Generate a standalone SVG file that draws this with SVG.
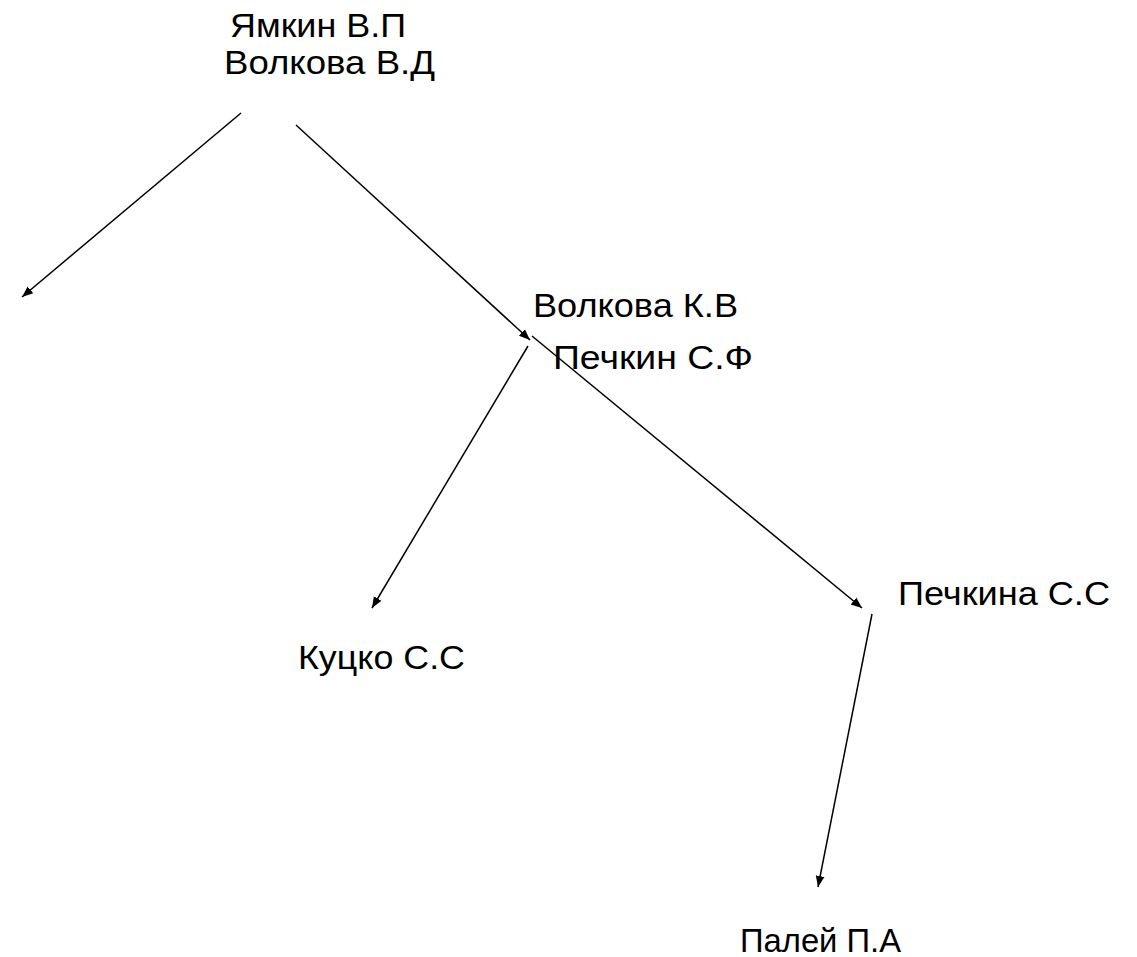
<svg xmlns="http://www.w3.org/2000/svg" width="1137" height="957" viewBox="0 0 1137 957">
<defs>
<marker id="ah" viewBox="0 0 10 10" refX="10" refY="5" markerWidth="11" markerHeight="11" markerUnits="userSpaceOnUse" orient="auto">
<path d="M0,1 L10,5 L0,9 z" fill="#000"/>
</marker>
<style>
text{font-family:"Liberation Sans",Arial,sans-serif;font-size:34px;fill:#000}
.c line{stroke:#000;stroke-width:1.5;marker-end:url(#ah)}
</style>
</defs>
<rect width="1137" height="957" fill="#fff"/>
<g id="n1"><text x="230" y="37" textLength="176" lengthAdjust="spacingAndGlyphs">Ямкин В.П</text><text x="224" y="74" textLength="211" lengthAdjust="spacingAndGlyphs">Волкова В.Д</text></g>
<g id="n2"><text x="533" y="317" textLength="205" lengthAdjust="spacingAndGlyphs">Волкова К.В</text><text x="553" y="369" textLength="200" lengthAdjust="spacingAndGlyphs">Печкин С.Ф</text></g>
<g id="n3"><text x="298" y="669" textLength="167" lengthAdjust="spacingAndGlyphs">Куцко С.С</text></g>
<g id="n4"><text x="898" y="605" textLength="212" lengthAdjust="spacingAndGlyphs">Печкина С.С</text></g>
<g id="n5"><text x="740" y="952" textLength="161" lengthAdjust="spacingAndGlyphs">Палей П.А</text></g>
<g class="c" id="connectors">
<line x1="241" y1="113" x2="22" y2="297"/>
<line x1="296" y1="125" x2="530" y2="340"/>
<line x1="528" y1="346" x2="372" y2="608"/>
<line x1="532" y1="336" x2="862" y2="608"/>
<line x1="872" y1="614" x2="818" y2="887"/>
</g>
</svg>
